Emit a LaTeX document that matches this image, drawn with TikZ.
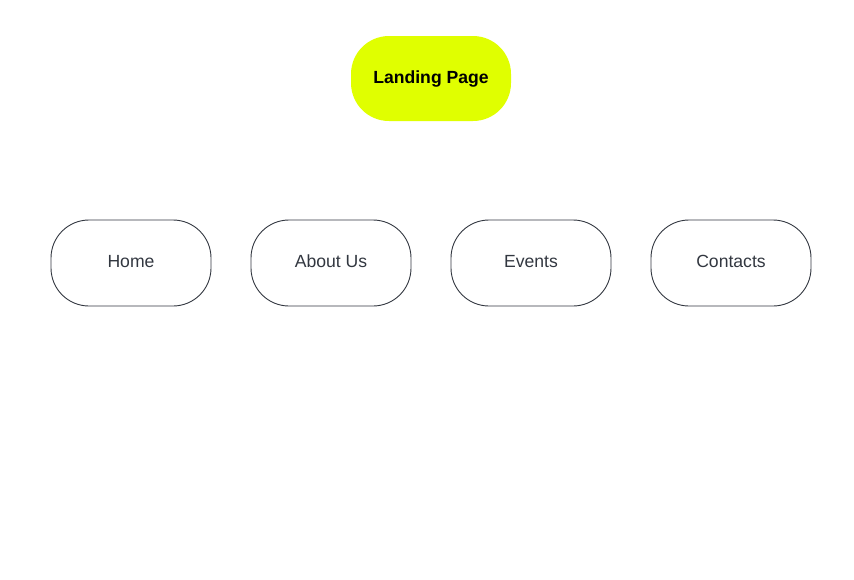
\documentclass[tikz,border=0pt]{standalone}
\usepackage{fontspec}
\setmainfont{Liberation Sans}
\usetikzlibrary{positioning}

\definecolor{limefill}{RGB}{224,255,0}
\definecolor{inkgray}{RGB}{50,55,64}

\begin{document}
\begin{tikzpicture}[x=1pt,y=1pt]
% 1px = 1pt
    \def\WIDTH{854}
    \def\HEIGHT{579}
    \def\BOXW{160pt} %width of boxes
    \def\BOXH{86pt} %
    \def\GAP{40pt} %

    \tikzset{
      pagebox/.style={rounded corners=38pt, minimum width=\BOXW,
        minimum height=\BOXH, inner sep=0pt, outer sep=0pt,
        text height=12.6pt, text depth=3.4pt,
        font=\fontsize{17.6}{20}\selectfont},
      landing/.style={pagebox, fill=limefill, font=\fontsize{17.6}{20}\selectfont\bfseries},
      section/.style={pagebox, draw=inkgray, line width=0.9pt, text=inkgray},
    }

    \useasboundingbox (0,0) rectangle (\WIDTH,-\HEIGHT);

    % LANDING PAGE
    \node [landing, minimum height=85pt] (landing) at (431,-78.5) {Landing Page};

    % SECTIONS
    \node [section] (home) at (131,-263) {Home};
    \node [section, right=\GAP of home] (about) {About Us};
    \node [section, right=\GAP of about] (events) {Events};
    \node [section, right=\GAP of events] (contacts) {Contacts};

\end{tikzpicture}
\end{document}
